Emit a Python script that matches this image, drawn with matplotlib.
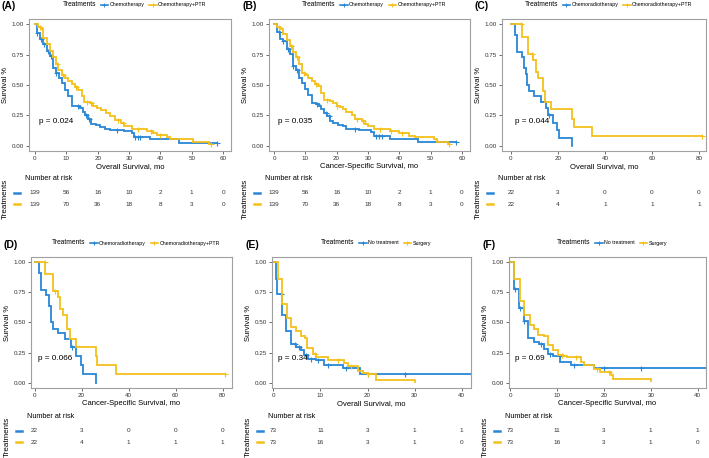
import numpy as np
import matplotlib
matplotlib.use("Agg")
import matplotlib.pyplot as plt
from matplotlib.lines import Line2D

plt.rcParams['font.family'] = ['Liberation Sans', 'DejaVu Sans']

BLUE = '#2a87d6'
GOLD = '#f3c01c'

# ---- data (step times / survival values) ----
# panel A, overall survival, chemotherapy vs chemotherapy+PTR
A_chemo_t = [0, 0.6, 1.6, 2.7, 3.7, 4.8, 5.6, 6.7, 7.6, 8.5, 9.6, 10.6, 11.7, 14.3, 15.2,
             16.0, 17.0, 18.0, 19.6, 20.7, 22.3, 23.9, 28.4, 31.0, 31.5, 36.6, 46.0]
A_chemo_s = [1.0, 0.93, 0.88, 0.84, 0.78, 0.74, 0.64, 0.60, 0.56, 0.52, 0.46, 0.41, 0.33, 0.31, 0.28,
             0.25, 0.22, 0.18, 0.17, 0.15, 0.14, 0.13, 0.12, 0.10, 0.07, 0.05, 0.025]
A_chemo_end = 58
A_chemo_cens = [0.8, 1.9, 3.0, 4.0, 5.0, 6.8, 13.6, 16.4, 17.2, 26.0, 31.9, 32.7, 33.4, 58]
A_ptr_t = [0, 1.0, 2.0, 2.7, 3.7, 4.8, 5.8, 6.7, 7.4, 8.5, 9.6, 10.6, 11.7, 12.7, 13.8, 14.9,
           15.6, 17.5, 18.6, 19.9, 21.2, 22.6, 23.9, 25.5, 27.3, 28.4, 30.8, 35.6, 37.7, 38.8,
           42.0, 43.0, 50.4, 55.5]
A_ptr_s = [1.0, 0.98, 0.96, 0.89, 0.84, 0.78, 0.73, 0.67, 0.62, 0.58, 0.56, 0.53, 0.51, 0.48, 0.46, 0.41,
           0.36, 0.35, 0.33, 0.31, 0.29, 0.27, 0.24, 0.21, 0.19, 0.16, 0.14, 0.12, 0.10, 0.09,
           0.07, 0.05, 0.03, 0.015]
A_ptr_end = 56
A_ptr_cens = [1.5, 7.0, 9.0, 13.0, 16.5, 18.0, 26.5, 28.0, 33.0, 37.0, 40.0, 56]

# panel B, cancer-specific survival
B_chemo_t = [0, 0.8, 2, 3, 4, 5, 6, 7, 8, 9, 10, 11, 12, 13.5, 14.5, 15, 16, 17, 18, 19, 20.5,
             22, 23, 27, 31, 32, 37, 46]
B_chemo_s = [1.0, 0.94, 0.88, 0.86, 0.80, 0.76, 0.66, 0.62, 0.56, 0.52, 0.47, 0.42, 0.35, 0.34, 0.33,
             0.30, 0.27, 0.24, 0.20, 0.19, 0.17, 0.16, 0.14, 0.13, 0.11, 0.08, 0.05, 0.03]
B_chemo_end = 58
B_chemo_cens = [1.5, 3.0, 4.5, 6.2, 7.5, 13.8, 16.5, 17.5, 26.0, 32.5, 33.5, 34.5, 58]
B_ptr_t = [0, 1, 2, 3, 4, 5, 6, 7, 8, 9, 10, 11, 12, 13, 14, 15, 16, 18, 19, 20, 21, 22, 23,
           25, 26, 28, 29, 30, 32, 37, 40, 43, 45, 51, 52, 55.5]
B_ptr_s = [1.0, 0.98, 0.96, 0.92, 0.87, 0.82, 0.77, 0.73, 0.67, 0.60, 0.58, 0.56, 0.53, 0.51, 0.49,
           0.43, 0.38, 0.37, 0.35, 0.33, 0.32, 0.30, 0.28, 0.25, 0.22, 0.20, 0.18, 0.16, 0.14,
           0.12, 0.10, 0.08, 0.07, 0.05, 0.03, 0.015]
B_ptr_end = 56
B_ptr_cens = [1.5, 5.5, 7.5, 9.5, 13.5, 17.0, 20.0, 26.5, 28.5, 34.0, 37.5, 41.0, 56]

# panel C, overall survival, chemoradiotherapy vs chemoradiotherapy+PTR
C_crt_t = [0, 1.7, 2.7, 4.5, 5.5, 6.4, 6.8, 7.8, 9.8, 12.8, 14.8, 15.7, 18.0, 19.5, 20.5, 25.9]
C_crt_s = [1.0, 0.91, 0.77, 0.73, 0.64, 0.59, 0.50, 0.45, 0.41, 0.36, 0.31, 0.25, 0.19, 0.13, 0.06, 0.0]
C_crt_end = 25.9
C_crt_cens = [16.0]
C_ptr_t = [0, 4.8, 7.4, 9.5, 10.5, 11.4, 13.5, 14.5, 17.0, 25.9, 26.9, 34.7]
C_ptr_s = [1.0, 0.90, 0.76, 0.71, 0.61, 0.56, 0.45, 0.36, 0.30, 0.22, 0.15, 0.075]
C_ptr_end = 81.4
C_ptr_cens = [4.3, 8.8, 81.4]

# panel D, cancer-specific survival
D_crt_t = [0, 1.7, 2.8, 5.0, 6.0, 6.8, 7.8, 9.8, 12.8, 15.6, 17.8, 19.6, 20.6, 26.0]
D_crt_s = [1.0, 0.91, 0.77, 0.73, 0.64, 0.50, 0.45, 0.41, 0.36, 0.30, 0.22, 0.15, 0.07, 0.0]
D_crt_end = 26.0
D_crt_cens = [16.0]
D_ptr_t = [0, 4.5, 7.8, 10.0, 10.7, 12.0, 13.9, 14.9, 17.8, 26.0, 26.7, 34.8]
D_ptr_s = [1.0, 0.90, 0.76, 0.71, 0.61, 0.56, 0.45, 0.36, 0.30, 0.22, 0.15, 0.075]
D_ptr_end = 81.0
D_ptr_cens = [4.3, 8.5, 81.0]

# panel E, overall survival, no treatment vs surgery
E_none_t = [0, 0.5, 0.8, 1.8, 2.7, 3.8, 4.8, 5.9, 6.6, 7.3, 9.1, 10.8, 14.8, 18.3]
E_none_s = [1.0, 0.86, 0.74, 0.56, 0.43, 0.32, 0.30, 0.27, 0.23, 0.20, 0.19, 0.15, 0.12, 0.075]
E_none_end = 45
E_none_cens = [1.6, 4.5, 5.5, 7.0, 8.0, 9.5, 11.5, 15.5, 20.0, 27.9]
E_surg_t = [0, 0.9, 1.8, 2.8, 3.8, 4.8, 5.9, 6.7, 7.2, 8.4, 9.0, 11.6, 14.9, 15.8, 17.9,
            19.0, 20.0, 21.8, 30.0]
E_surg_s = [1.0, 0.86, 0.65, 0.54, 0.46, 0.43, 0.39, 0.37, 0.29, 0.24, 0.21, 0.19, 0.16, 0.14, 0.10,
            0.08, 0.07, 0.025, 0.005]
E_surg_end = 30.0
E_surg_cens = [8.9, 13.7, 16.5, 20.0]

# panel F, cancer-specific survival
F_none_t = [0, 0.7, 1.9, 2.8, 3.8, 5.0, 6.2, 7.1, 8.1, 9.0, 10.7, 13.0, 17.9]
F_none_s = [1.0, 0.78, 0.62, 0.51, 0.37, 0.34, 0.32, 0.28, 0.24, 0.22, 0.17, 0.15, 0.12]
F_none_end = 45
F_none_cens = [0.9, 2.0, 3.0, 6.5, 8.5, 10.5, 13.5, 20.0, 28.0]
F_surg_t = [0, 0.85, 2.1, 3.0, 4.1, 5.0, 6.0, 7.1, 8.1, 9.0, 10.2, 11.2, 12.0, 15.0, 15.8,
            17.9, 19.2, 21.4, 22.0, 30.0]
F_surg_s = [1.0, 0.86, 0.68, 0.56, 0.48, 0.45, 0.40, 0.39, 0.31, 0.27, 0.23, 0.22, 0.21, 0.17, 0.15,
            0.11, 0.085, 0.06, 0.03, 0.01]
F_surg_end = 30.0
F_surg_cens = [11.0, 14.0, 18.5, 21.0]

# numbers at risk
risk_breaks_AB = [0, 10, 20, 30, 40, 50, 60]
risk_chemo = [139, 56, 16, 10, 2, 1, 0]
risk_chemo_ptr = [139, 70, 36, 18, 8, 3, 0]
risk_breaks_CD = [0, 20, 40, 60, 80]
risk_crt = [22, 3, 0, 0, 0]
risk_crt_ptr = [22, 4, 1, 1, 1]
risk_breaks_EF = [0, 10, 20, 30, 40]
risk_none = [73, 11, 3, 1, 1]
risk_surg = [73, 16, 3, 1, 0]

pvals = ['p = 0.024', 'p = 0.035', 'p = 0.044', 'p = 0.066', 'p = 0.34', 'p = 0.69']

W, H = 709, 458
fig = plt.figure(figsize=(W / 100, H / 100), dpi=100)


def px_axes(x0, y0, x1, y1):
    return fig.add_axes([x0 / W, 1 - y1 / H, (x1 - x0) / W, (y1 - y0) / H])


def km_panel(box, xlim, breaks, curves, labels, risk, pval, xlabel, tag, table_rows, tag_y):
    x0, y0, x1, y1 = box
    ax = px_axes(x0, y0, x1, y1)
    for (t, s, end, cens), col in zip(curves, [BLUE, GOLD]):
        tt = list(t) + [end]
        ss = list(s) + [s[-1]]
        ax.step(tt, ss, where='post', color=col, lw=1.3, solid_joinstyle='miter')
        idx = np.searchsorted(np.array(t), np.array(cens), side='right') - 1
        ax.plot(cens, np.array(s)[idx], '+', color=col, ms=3.6, mew=0.8)
    ax.set_xlim(xlim)
    ax.set_ylim(-0.045, 1.045)
    ax.set_xticks(breaks)
    ax.set_yticks([0, 0.25, 0.5, 0.75, 1.0])
    ax.set_yticklabels(['0.00', '0.25', '0.50', '0.75', '1.00'])
    ax.tick_params(labelsize=4.5, length=2, width=0.5, colors='#333333', pad=1.5)
    for sp in ax.spines.values():
        sp.set_color('#a0a0a0')
        sp.set_linewidth(0.8)
    ax.set_xlabel(xlabel, fontsize=5.5, labelpad=1.5)
    ax.set_ylabel('Survival %', fontsize=5.5, labelpad=2)
    xmax = max(c[2] for c in curves)
    ax.text(xmax / 50, 0.2, pval, fontsize=5.9, ha='left', va='center')

    h0 = Line2D([], [], color='none')
    h1 = Line2D([], [], color=BLUE, lw=1.2, marker='+', ms=3, mew=0.7)
    h2 = Line2D([], [], color=GOLD, lw=1.2, marker='+', ms=3, mew=0.7)
    leg = ax.legend([h0, h1, h2], ['Treatments'] + labels, ncol=3, loc='center',
                    bbox_to_anchor=(0.5, 1 + 14 / (y1 - y0)), frameon=False, fontsize=3.8,
                    handlelength=1.4, handletextpad=0.3, columnspacing=0.9, borderaxespad=0,
                    borderpad=0)
    leg.get_texts()[0].set_fontsize(4.8)

    fig.text((x0 - 27) / W, 1 - tag_y / H, tag, fontsize=7.5, fontweight='bold',
             ha='left', va='center')

    # risk table
    ty0, ty1 = table_rows
    tab = px_axes(x0, ty0 - 5.5, x1, ty1 + 5.5)
    tab.set_xlim(xlim)
    tab.set_ylim(2.5, 0.5)
    tab.axis('off')
    for row, (vals, col) in enumerate(zip(risk, [BLUE, GOLD]), start=1):
        for b, v in zip(breaks, vals):
            tab.text(b, row, str(v), fontsize=4.6, ha='center', va='center', color='#333333')
        tab.plot([-0.075, -0.045], [row, row], color=col, lw=1.8, clip_on=False,
                 transform=tab.get_yaxis_transform())
    tab.text(-0.02, 1 + 8.5 / 22, 'Number at risk', fontsize=5.2,
             ha='left', va='center', transform=tab.transAxes)
    fig.text((x0 - 24) / W, 1 - (ty0 + ty1) / 2 / H, 'Treatments', fontsize=5.8,
             rotation=90, ha='center', va='center')
    return ax


km_panel((29, 19, 231, 151), (-1.9, 62.5), risk_breaks_AB,
         [(A_chemo_t, A_chemo_s, A_chemo_end, A_chemo_cens),
          (A_ptr_t, A_ptr_s, A_ptr_end, A_ptr_cens)],
         ['Chemotherapy', 'Chemotherapy+PTR'], [risk_chemo, risk_chemo_ptr], pvals[0],
         'Overall Survival, mo', '(A)', (193, 204), 6)
km_panel((269, 19, 470, 151), (-1.6, 62.6), risk_breaks_AB,
         [(B_chemo_t, B_chemo_s, B_chemo_end, B_chemo_cens),
          (B_ptr_t, B_ptr_s, B_ptr_end, B_ptr_cens)],
         ['Chemotherapy', 'Chemotherapy+PTR'], [risk_chemo, risk_chemo_ptr], pvals[1],
         'Cancer-Specific Survival, mo', '(B)', (193, 204), 6)
km_panel((502, 19, 706, 151), (-3.8, 83.0), risk_breaks_CD,
         [(C_crt_t, C_crt_s, C_crt_end, C_crt_cens),
          (C_ptr_t, C_ptr_s, C_ptr_end, C_ptr_cens)],
         ['Chemoradiotherapy', 'Chemoradiotherapy+PTR'], [risk_crt, risk_crt_ptr], pvals[2],
         'Overall Survival, mo', '(C)', (193, 204), 6)
km_panel((31, 257, 232, 388), (-1.5, 84.0), risk_breaks_CD,
         [(D_crt_t, D_crt_s, D_crt_end, D_crt_cens),
          (D_ptr_t, D_ptr_s, D_ptr_end, D_ptr_cens)],
         ['Chemoradiotherapy', 'Chemoradiotherapy+PTR'], [risk_crt, risk_crt_ptr], pvals[3],
         'Cancer-Specific Survival, mo', '(D)', (431, 442), 245)
km_panel((272, 257, 471, 388), (-0.3, 42.0), risk_breaks_EF,
         [(E_none_t, E_none_s, E_none_end, E_none_cens),
          (E_surg_t, E_surg_s, E_surg_end, E_surg_cens)],
         ['No treatment', 'Surgery'], [risk_none, risk_surg], pvals[4],
         'Overall Survival, mo', '(E)', (431, 442), 245)
km_panel((509, 257, 706, 388), (-0.3, 41.8), risk_breaks_EF,
         [(F_none_t, F_none_s, F_none_end, F_none_cens),
          (F_surg_t, F_surg_s, F_surg_end, F_surg_cens)],
         ['No treatment', 'Surgery'], [risk_none, risk_surg], pvals[5],
         'Cancer-Specific Survival, mo', '(F)', (431, 442), 245)

fig.savefig('out.png', dpi=100)
